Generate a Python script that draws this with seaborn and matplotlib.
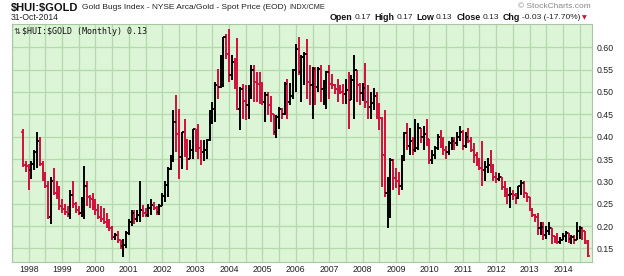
import matplotlib
matplotlib.use("Agg")
import matplotlib.pyplot as plt
import seaborn as sns
import numpy as np
import pandas as pd

# ---------------- data (monthly OHLC, Nov-1997 .. Oct-2014) ----------------
start_month = "1997-11"

open_ = [
    0.41, 0.337,
    0.335, 0.325, 0.34, 0.365, 0.39, 0.34, 0.305, 0.29, 0.22, 0.30, 0.275, 0.27,
    0.245, 0.238, 0.232, 0.228, 0.27, 0.25, 0.235, 0.23, 0.26, 0.29, 0.265, 0.26,
    0.245, 0.235, 0.22, 0.215, 0.21, 0.20, 0.195, 0.175, 0.18, 0.168, 0.155, 0.158,
    0.184, 0.21, 0.229, 0.215, 0.225, 0.236, 0.23, 0.225, 0.24, 0.248, 0.24, 0.232,
    0.245, 0.268, 0.292, 0.328, 0.351, 0.433, 0.407, 0.355, 0.41, 0.39, 0.35, 0.37,
    0.418, 0.381, 0.375, 0.365, 0.37, 0.392, 0.433, 0.463, 0.516, 0.511, 0.563, 0.623,
    0.586, 0.537, 0.567, 0.552, 0.463, 0.507, 0.479, 0.471, 0.505, 0.549, 0.522, 0.518,
    0.496, 0.478, 0.493, 0.47, 0.451, 0.41, 0.444, 0.463, 0.451, 0.518, 0.478, 0.49,
    0.549, 0.597, 0.545, 0.578, 0.586, 0.522, 0.515, 0.552, 0.511, 0.552, 0.507, 0.52,
    0.545, 0.519, 0.515, 0.507, 0.504, 0.50, 0.495, 0.504, 0.481, 0.526, 0.549, 0.515,
    0.497, 0.51, 0.478, 0.466, 0.475, 0.49, 0.47, 0.441, 0.359, 0.273, 0.303, 0.348,
    0.307, 0.30, 0.29, 0.35, 0.408, 0.38, 0.39, 0.37, 0.375, 0.419, 0.40, 0.405,
    0.395, 0.348, 0.36, 0.375, 0.40, 0.38, 0.37, 0.365, 0.385, 0.39, 0.385, 0.40,
    0.41, 0.38, 0.40, 0.39, 0.37, 0.36, 0.345, 0.33, 0.325, 0.333, 0.336, 0.325,
    0.31, 0.305, 0.31, 0.288, 0.284, 0.27, 0.272, 0.27, 0.263, 0.29, 0.296, 0.275,
    0.265, 0.236, 0.224, 0.22, 0.195, 0.198, 0.18, 0.188, 0.195, 0.178, 0.172, 0.165,
    0.17, 0.178, 0.185, 0.172, 0.175, 0.17, 0.188, 0.195, 0.19, 0.166,
]
high = [
    0.418, 0.345,
    0.34, 0.345, 0.37, 0.41, 0.40, 0.345, 0.32, 0.30, 0.31, 0.33, 0.30, 0.29,
    0.26, 0.25, 0.245, 0.28, 0.30, 0.255, 0.245, 0.265, 0.335, 0.30, 0.27, 0.275,
    0.26, 0.25, 0.245, 0.24, 0.23, 0.215, 0.20, 0.185, 0.19, 0.17, 0.172, 0.19,
    0.215, 0.236, 0.235, 0.235, 0.30, 0.247, 0.24, 0.25, 0.26, 0.255, 0.245, 0.25,
    0.275, 0.30, 0.332, 0.36, 0.46, 0.493, 0.463, 0.41, 0.44, 0.395, 0.392, 0.418,
    0.418, 0.429, 0.392, 0.392, 0.395, 0.459, 0.478, 0.522, 0.552, 0.582, 0.623, 0.63,
    0.642, 0.582, 0.575, 0.62, 0.511, 0.518, 0.516, 0.515, 0.56, 0.56, 0.545, 0.545,
    0.522, 0.50, 0.50, 0.49, 0.451, 0.448, 0.466, 0.465, 0.522, 0.53, 0.52, 0.552,
    0.608, 0.623, 0.582, 0.589, 0.619, 0.56, 0.556, 0.555, 0.556, 0.56, 0.526, 0.548,
    0.56, 0.541, 0.519, 0.53, 0.515, 0.519, 0.53, 0.545, 0.537, 0.582, 0.55, 0.52,
    0.52, 0.564, 0.515, 0.50, 0.51, 0.50, 0.475, 0.445, 0.46, 0.31, 0.352, 0.35,
    0.33, 0.32, 0.36, 0.41, 0.43, 0.42, 0.40, 0.44, 0.43, 0.42, 0.425, 0.44,
    0.395, 0.37, 0.38, 0.405, 0.415, 0.40, 0.38, 0.39, 0.40, 0.40, 0.41, 0.425,
    0.415, 0.41, 0.42, 0.40, 0.386, 0.365, 0.352, 0.39, 0.345, 0.352, 0.37, 0.34,
    0.322, 0.318, 0.31, 0.30, 0.285, 0.288, 0.28, 0.275, 0.29, 0.303, 0.30, 0.275,
    0.265, 0.24, 0.228, 0.23, 0.21, 0.21, 0.20, 0.21, 0.196, 0.178, 0.184, 0.175,
    0.184, 0.19, 0.185, 0.18, 0.18, 0.21, 0.20, 0.198, 0.19, 0.17,
]
low = [
    0.333, 0.32,
    0.28, 0.305, 0.325, 0.33, 0.335, 0.30, 0.285, 0.215, 0.205, 0.27, 0.26, 0.235,
    0.23, 0.225, 0.22, 0.215, 0.24, 0.23, 0.225, 0.22, 0.215, 0.245, 0.24, 0.235,
    0.225, 0.215, 0.21, 0.205, 0.195, 0.19, 0.17, 0.168, 0.162, 0.148, 0.13, 0.15,
    0.18, 0.20, 0.205, 0.21, 0.21, 0.22, 0.22, 0.22, 0.225, 0.235, 0.225, 0.225,
    0.245, 0.255, 0.265, 0.325, 0.343, 0.366, 0.306, 0.328, 0.355, 0.325, 0.35, 0.35,
    0.366, 0.35, 0.336, 0.345, 0.35, 0.39, 0.429, 0.433, 0.485, 0.51, 0.511, 0.574,
    0.522, 0.526, 0.507, 0.459, 0.414, 0.44, 0.438, 0.44, 0.485, 0.478, 0.478, 0.474,
    0.47, 0.433, 0.448, 0.433, 0.403, 0.396, 0.418, 0.44, 0.448, 0.44, 0.47, 0.485,
    0.50, 0.537, 0.478, 0.515, 0.485, 0.47, 0.44, 0.47, 0.50, 0.478, 0.47, 0.463,
    0.485, 0.507, 0.496, 0.478, 0.495, 0.474, 0.474, 0.418, 0.481, 0.44, 0.478, 0.47,
    0.48, 0.464, 0.44, 0.44, 0.46, 0.44, 0.415, 0.287, 0.265, 0.196, 0.218, 0.28,
    0.285, 0.27, 0.28, 0.345, 0.37, 0.36, 0.36, 0.365, 0.37, 0.385, 0.37, 0.38,
    0.34, 0.34, 0.35, 0.37, 0.375, 0.36, 0.35, 0.36, 0.37, 0.37, 0.38, 0.39,
    0.37, 0.375, 0.385, 0.365, 0.341, 0.335, 0.325, 0.29, 0.30, 0.318, 0.318, 0.30,
    0.296, 0.30, 0.281, 0.266, 0.25, 0.24, 0.258, 0.25, 0.26, 0.27, 0.263, 0.255,
    0.233, 0.22, 0.21, 0.18, 0.18, 0.17, 0.172, 0.18, 0.161, 0.163, 0.16, 0.16,
    0.168, 0.165, 0.162, 0.16, 0.16, 0.17, 0.172, 0.17, 0.16, 0.13,
]
close = [
    0.337, 0.335,
    0.325, 0.34, 0.365, 0.39, 0.34, 0.305, 0.29, 0.22, 0.30, 0.275, 0.27, 0.245,
    0.238, 0.232, 0.228, 0.27, 0.25, 0.235, 0.23, 0.26, 0.29, 0.265, 0.26, 0.245,
    0.235, 0.22, 0.215, 0.21, 0.20, 0.195, 0.175, 0.18, 0.168, 0.155, 0.158, 0.184,
    0.21, 0.229, 0.215, 0.225, 0.236, 0.23, 0.225, 0.24, 0.248, 0.24, 0.232, 0.245,
    0.268, 0.292, 0.328, 0.351, 0.433, 0.407, 0.355, 0.41, 0.39, 0.35, 0.37, 0.418,
    0.381, 0.375, 0.365, 0.37, 0.392, 0.433, 0.463, 0.516, 0.511, 0.563, 0.623, 0.586,
    0.537, 0.567, 0.552, 0.463, 0.507, 0.479, 0.471, 0.505, 0.549, 0.522, 0.518, 0.496,
    0.478, 0.493, 0.47, 0.451, 0.41, 0.444, 0.463, 0.451, 0.518, 0.478, 0.49, 0.549,
    0.597, 0.545, 0.578, 0.586, 0.522, 0.515, 0.552, 0.511, 0.552, 0.507, 0.52, 0.545,
    0.519, 0.515, 0.507, 0.504, 0.50, 0.495, 0.504, 0.481, 0.526, 0.549, 0.515, 0.497,
    0.51, 0.478, 0.466, 0.475, 0.49, 0.47, 0.441, 0.359, 0.273, 0.303, 0.348, 0.307,
    0.30, 0.29, 0.35, 0.408, 0.38, 0.39, 0.37, 0.375, 0.419, 0.40, 0.405, 0.395,
    0.348, 0.36, 0.375, 0.40, 0.38, 0.37, 0.365, 0.385, 0.39, 0.385, 0.40, 0.41,
    0.38, 0.40, 0.39, 0.37, 0.36, 0.345, 0.33, 0.325, 0.333, 0.336, 0.325, 0.31,
    0.305, 0.31, 0.288, 0.284, 0.27, 0.272, 0.27, 0.263, 0.29, 0.296, 0.275, 0.265,
    0.236, 0.224, 0.22, 0.195, 0.198, 0.18, 0.188, 0.195, 0.178, 0.172, 0.165, 0.17,
    0.178, 0.185, 0.172, 0.175, 0.17, 0.188, 0.195, 0.19, 0.163, 0.134,
]

year_labels = [str(y) for y in range(1998, 2015)]
ytick_values = [0.15, 0.20, 0.25, 0.30, 0.35, 0.40, 0.45, 0.50, 0.55, 0.60]

# ---------------- frame ----------------
months = pd.period_range(start_month, periods=len(close), freq="M")
df = pd.DataFrame({"open": open_, "high": high, "low": low, "close": close}, index=months)
# month index relative to January 1998
df["x"] = [(p.year - 1998) * 12 + (p.month - 1) for p in df.index]
df["up"] = df["close"] >= df["open"]

# ---------------- style ----------------
sns.set_theme(style="white")
plt.rcParams["font.family"] = ["Liberation Sans", "DejaVu Sans"]

BG = "#dbf5d6"
GRID = "#b6d8ae"
RED = "#d0103a"
BLACK = "#000000"

W, H = 624, 276
fig = plt.figure(figsize=(W / 100, H / 100), dpi=100)
fig.patch.set_facecolor("white")


def fx(px):
    return px / W


def fy(py):
    return 1 - py / H


top_px, bot_px, left_px, right_px = 24, 262, 12, 592
ax = fig.add_axes([fx(left_px), fy(bot_px), fx(right_px) - fx(left_px), fy(top_px) - fy(bot_px)])
ax.set_facecolor(BG)

x_per_px = 1 / 2.822
x0 = (left_px - 20.7) * x_per_px
x1 = (right_px - 20.7) * x_per_px
ax.set_xlim(x0, x1)
v_top = 0.60 + (47.3 - top_px) / 447
v_bot = 0.60 - (bot_px - 47.3) / 447
ax.set_ylim(v_bot, v_top)

# grid
ax.set_xticks([12 * k for k in range(len(year_labels))])
ax.set_xticklabels(year_labels)
ax.set_xticks([12 * k + 6 for k in range(-1, len(year_labels))], minor=True)
ax.set_yticks(ytick_values)
ax.set_yticklabels([f"{v:.2f}" for v in ytick_values])
ax.grid(True, which="both", axis="x", color=GRID, lw=0.9)
ax.grid(True, which="major", axis="y", color=GRID, lw=0.9)
ax.set_axisbelow(True)
ax.yaxis.tick_right()
ax.tick_params(axis="both", which="both", length=0, labelsize=6.3, colors="#222222")
ax.tick_params(axis="x", pad=2.5)
ax.tick_params(axis="y", pad=3)
for s in ax.spines.values():
    s.set_color("#a8c8a4")
    s.set_linewidth(0.8)

# ---------------- OHLC bars ----------------
tick = 0.85
for up, sub in df.groupby("up"):
    col = BLACK if up else RED
    ax.vlines(sub["x"], sub["low"], sub["high"], color=col, lw=1.4)
    ax.hlines(sub["open"], sub["x"] - tick, sub["x"], color=col, lw=1.2)
    ax.hlines(sub["close"], sub["x"], sub["x"] + tick, color=col, lw=1.2)

# ---------------- header texts ----------------
renderer = fig.canvas.get_renderer()


def chain(x_px, y_px, parts):
    x = x_px
    for s, gap, kw in parts:
        t = fig.text(fx(x), fy(y_px), s, va="center", ha="left", **kw)
        bb = t.get_window_extent(renderer)
        x = bb.x1 + gap
    return x


chain(11, 7.5, [
    (r"\$HUI:\$GOLD", 3, dict(fontsize=8.0, fontweight="bold", color="#111111")),
    ("Gold Bugs Index - NYSE Arca/Gold - Spot Price (EOD)", 3, dict(fontsize=6.0, color="#222222")),
    ("INDX/CME", 0, dict(fontsize=5.2, color="#222222")),
])
fig.text(fx(11), fy(17), "31-Oct-2014", fontsize=6.2, color="#222222", va="center", ha="left")
fig.text(fx(591), fy(7), "\u00a9 StockCharts.com", fontsize=6.0, color="#888888", va="center", ha="right")

chain(330, 17.5, [
    ("Open", 1.5, dict(fontsize=6.4, fontweight="bold", color="#111111")),
    ("0.17", 4, dict(fontsize=6.0, color="#222222")),
    ("High", 1.5, dict(fontsize=6.4, fontweight="bold", color="#111111")),
    ("0.17", 4, dict(fontsize=6.0, color="#222222")),
    ("Low", 1.5, dict(fontsize=6.4, fontweight="bold", color="#111111")),
    ("0.13", 4, dict(fontsize=6.0, color="#222222")),
    ("Close", 1.5, dict(fontsize=6.4, fontweight="bold", color="#111111")),
    ("0.13", 4, dict(fontsize=6.0, color="#222222")),
    ("Chg", 1.5, dict(fontsize=6.4, fontweight="bold", color="#111111")),
    ("-0.03 (-17.70%)", 2, dict(fontsize=6.0, color="#222222")),
    ("\u25bc", 0, dict(fontsize=4.5, color=RED, family="DejaVu Sans")),
])

# in-plot legend label
chain(13.5, 31.5, [
    ("\u21c5", 2, dict(fontsize=6.0, color="#333333", family="DejaVu Sans")),
    (r"\$HUI:\$GOLD (Monthly) 0.13", 0, dict(fontsize=6.0, color="#111111", family="DejaVu Sans Mono")),
])

fig.savefig("out.png", dpi=100, facecolor="white")
